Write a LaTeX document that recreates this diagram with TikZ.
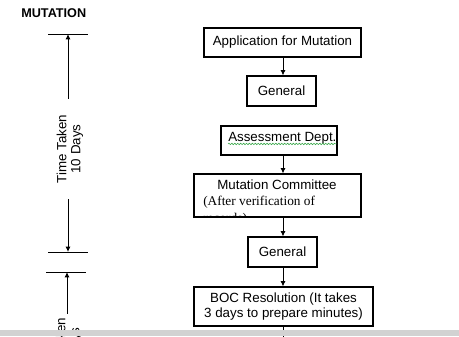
\documentclass[tikz,border=0pt]{standalone}
\usepackage{fontspec}
\setmainfont{Liberation Sans}
\newfontfamily\mutserif{Liberation Serif}
\usepackage{xcolor}
\usetikzlibrary{arrows.meta,positioning,decorations.pathmorphing}
\definecolor{MutInk}{HTML}{000000}
\definecolor{MutSpell}{HTML}{3AA84A}
\definecolor{MutPageGray}{HTML}{D2D2D2}
\tikzset{
  mbox/.style={draw=MutInk,line width=0.8pt,fill=white,inner sep=0pt,
    align=center,font=\fontsize{10}{11.25}\selectfont},
  marrow/.style={-{Latex[length=4pt,width=3.8pt]},line width=0.75pt,MutInk},
  mtick/.style={line width=0.75pt,MutInk},
  mlabel/.style={font=\fontsize{10}{10.5}\selectfont,align=center,inner sep=0pt},
  mspell/.style={MutSpell,line width=0.45pt,
    decorate,decoration={snake,segment length=2.2pt,amplitude=0.55pt}}
}

\begin{document}
\begin{tikzpicture}[x=0.75pt,y=-0.75pt]
  \path[use as bounding box] (0,0) rectangle (459,336);
  \clip (0,0) rectangle (459,336);
  \coordinate (spine) at (283,0);

  \node[anchor=base west,inner sep=0pt,font=\fontsize{9.5}{11}\selectfont\bfseries]
    (title) at (21,17) {MUTATION};

  % process boxes
  \node[mbox,minimum width=117.75pt,minimum height=21.75pt] (app) at (282.5,42.5)
    {Application for Mutation};
  \node[mbox,minimum width=51.75pt,minimum height=22.5pt] (gen1) at (281.5,91)
    {General};
  \node[mbox,minimum width=87pt,minimum height=21.75pt] (assess) at (279,140.5) {};
  \node[mlabel,anchor=base west] (assesstxt) at (228,141) {Assessment Dept.};
  \draw[mspell] ([yshift=-2.2pt]assesstxt.base west) -- ([yshift=-2.2pt]assesstxt.base east);
  \node[mbox,minimum width=125.25pt,minimum height=32.25pt] (comm) at (277.5,195.5) {};
  \begin{scope}
    \clip (comm.south west) rectangle (comm.north east);
    \node[mlabel,anchor=base] (commtxt) at (277,189) {Mutation Committee};
    \node[mlabel,anchor=base west,font=\mutserif\fontsize{10}{11}\selectfont]
      (commnote) at (203,205) {(After verification of};
    \node[mlabel,anchor=base west,font=\mutserif\fontsize{10}{11}\selectfont]
      (commrest) at (203,222) {records)};
  \end{scope}
  \node[mbox,minimum width=51.75pt,minimum height=22.5pt] (gen2) at (282.5,252)
    {General};
  \node[mbox,minimum width=134.25pt,minimum height=29.25pt] (boc) at (283.5,306.5)
    {BOC Resolution (It takes\\3 days to prepare minutes)};
  \coordinate (nextstep) at (283,350);

  \foreach \a/\b in {app/gen1,assess/comm,comm/gen2,gen2/boc}{
    \draw[marrow] (\a.south -| spine) -- (\b.north -| spine);
  }
  \draw[mtick] (boc.south -| spine) -- (nextstep);

  % time spans on the left
  \coordinate (tA) at (68,34);
  \coordinate (tB) at (68,252);
  \coordinate (tC) at (67,272);
  \draw[mtick] (48,34) -- (88,34);
  \draw[mtick] (48,252) -- (88,252);
  \draw[mtick] (46,272) -- (86,272);
  \node[mlabel,rotate=90,inner xsep=12pt] (span1) at (70,149) {Time Taken\\10 Days};
  \draw[marrow] (span1.east -| tA) -- (tA);
  \draw[marrow] (span1.west -| tB) -- (tB);
  \node[mlabel,rotate=90,inner xsep=3pt] (span2) at (69,352) {Time Taken\\10 Days};
  \draw[marrow] (span2.east -| tC) -- (tC);

  \fill[MutPageGray] (0,330) rectangle (459,336);
\end{tikzpicture}
\end{document}
